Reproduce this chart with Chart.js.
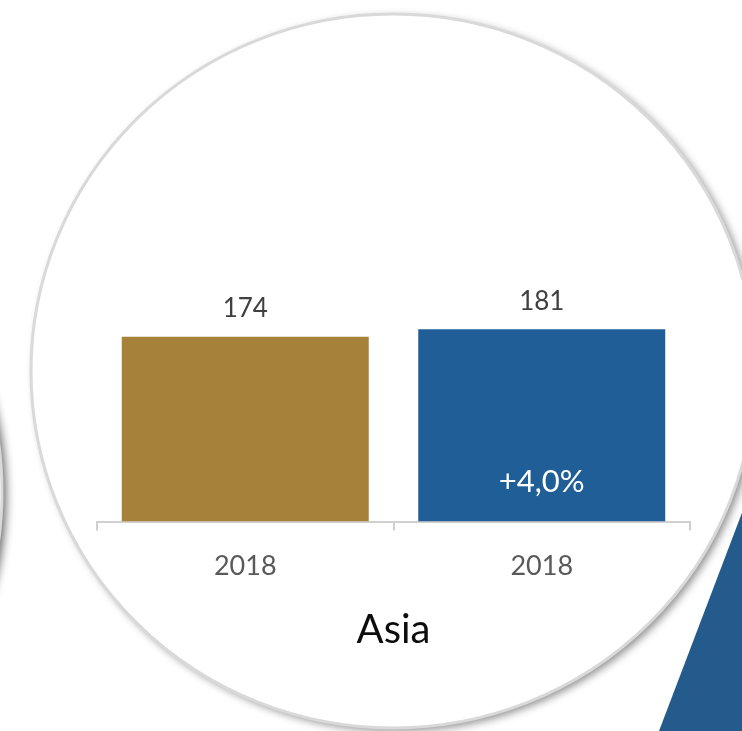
<!DOCTYPE html>
<html>
<head>
<meta charset="utf-8">
<script src="https://cdn.jsdelivr.net/npm/chart.js@4/dist/chart.umd.min.js"></script>
<style>
  html, body { margin: 0; padding: 0; background: #ffffff; }
  #wrap { width: 742px; height: 731px; position: relative; }
</style>
</head>
<body>
<div id="wrap"><canvas id="c" width="742" height="731"></canvas></div>
<script>
// ---- data ----
const categories = ["2018", "2018"];
const values = [174, 181];
const changeLabels = ["", "+4,0%"];
const barColors = ["#A6813A", "#1F5E96"];
const regionTitle = "Asia";

const FONT = "Lato, 'Liberation Sans', sans-serif";

const backdrop = {
  id: "backdrop",
  beforeDraw(chart) {
    const ctx = chart.ctx;
    ctx.save();
    ctx.fillStyle = "#ffffff";
    ctx.fillRect(0, 0, chart.width, chart.height);

    // left partial circle
    ctx.save();
    ctx.shadowColor = "rgba(0,0,0,0.6)";
    ctx.shadowBlur = 10;
    ctx.shadowOffsetX = 4;
    ctx.shadowOffsetY = 3;
    ctx.beginPath();
    ctx.arc(-358, 492, 360, 0, Math.PI * 2);
    ctx.fillStyle = "#ffffff";
    ctx.fill();
    ctx.restore();
    ctx.beginPath();
    ctx.arc(-358, 492, 360, 0, Math.PI * 2);
    ctx.strokeStyle = "#d9d9d9";
    ctx.lineWidth = 3;
    ctx.stroke();

    // blue triangle
    ctx.beginPath();
    ctx.moveTo(742 + 6, 513 - 16);
    ctx.lineTo(659, 731);
    ctx.lineTo(760, 731);
    ctx.closePath();
    ctx.fillStyle = "#255B8C";
    ctx.fill();

    // main circle
    ctx.save();
    ctx.shadowColor = "rgba(0,0,0,0.45)";
    ctx.shadowBlur = 9;
    ctx.shadowOffsetX = 4;
    ctx.shadowOffsetY = 3;
    ctx.beginPath();
    ctx.ellipse(393, 371, 362, 357, 0, 0, Math.PI * 2);
    ctx.fillStyle = "#ffffff";
    ctx.fill();
    ctx.restore();
    ctx.beginPath();
    ctx.ellipse(393, 371, 362, 357, 0, 0, Math.PI * 2);
    ctx.strokeStyle = "#d9d9d9";
    ctx.lineWidth = 3;
    ctx.stroke();
    ctx.restore();
  }
};

const labelsPlugin = {
  id: "valueLabels",
  afterDatasetsDraw(chart) {
    const ctx = chart.ctx;
    const meta = chart.getDatasetMeta(0);
    const base = chart.scales.y.getPixelForValue(0);
    ctx.save();
    ctx.textAlign = "center";
    ctx.textBaseline = "middle";
    meta.data.forEach((el, i) => {
      ctx.font = "26px " + FONT;
      ctx.fillStyle = "#404040";
      ctx.fillText(String(values[i]), el.x, el.y - 28);
      if (changeLabels[i]) {
        ctx.font = "31px " + FONT;
        ctx.fillStyle = "#ffffff";
        ctx.fillText(changeLabels[i], el.x, base - 40);
      }
    });
    ctx.restore();
  }
};

new Chart(document.getElementById("c"), {
  type: "bar",
  data: {
    labels: categories,
    datasets: [{
      data: values,
      backgroundColor: barColors,
      borderWidth: 0,
      categoryPercentage: 1,
      barPercentage: 0.833
    }]
  },
  options: {
    responsive: false,
    animation: false,
    layout: { padding: { left: 97, right: 52, top: 256, bottom: 77 } },
    plugins: { legend: { display: false }, tooltip: { enabled: false } },
    scales: {
      y: { display: false, min: 0, max: 250 },
      x: {
        offset: true,
        grid: { display: true, drawOnChartArea: false, drawTicks: true, tickLength: 9, color: "#d0d0d0", lineWidth: 2 },
        border: { display: true, color: "#d0d0d0", width: 2 },
        ticks: { color: "#595959", font: { family: FONT, size: 27 }, padding: 19 },
        title: { display: true, text: regionTitle, color: "#0d0d0d", font: { family: FONT, size: 40 }, padding: { top: 5, bottom: 0 } }
      }
    }
  },
  plugins: [backdrop, labelsPlugin]
});
</script>
</body>
</html>
